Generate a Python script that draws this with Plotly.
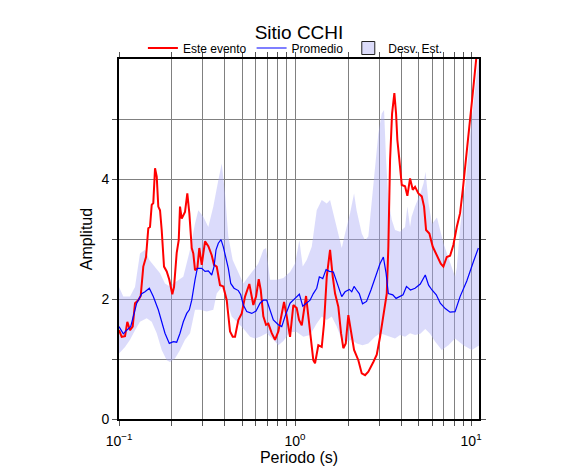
import plotly.graph_objects as go

# Este evento (red)
event_T = [0.100, 0.1036, 0.1082, 0.1115, 0.1155, 0.1196, 0.1233, 0.1287, 0.1328, 0.1374,
           0.1424, 0.1467, 0.1500, 0.1534, 0.1566, 0.1602, 0.1638, 0.1672, 0.1710, 0.1748,
           0.1802, 0.1867, 0.1931, 0.2008, 0.2054, 0.2127, 0.2184, 0.2221, 0.2271, 0.2319,
           0.2371, 0.2444, 0.2509, 0.2589, 0.2643, 0.2703, 0.2785, 0.2859, 0.2951, 0.3081,
           0.3217, 0.3363, 0.3466, 0.3590, 0.3749, 0.3914, 0.4092, 0.4273, 0.4426, 0.4561,
           0.4763, 0.4980, 0.5199, 0.5500, 0.5795, 0.6004, 0.6220, 0.6385, 0.6606, 0.6843,
           0.7052, 0.7373, 0.7698, 0.8038, 0.8404, 0.8660, 0.8972, 0.9368, 0.978, 1.022,
           1.054, 1.092, 1.155, 1.217, 1.270, 1.299, 1.356, 1.418, 1.461, 1.514,
           1.581, 1.638, 1.688, 1.762, 1.825, 1.881, 1.941, 2.008, 2.072, 2.164,
           2.289, 2.393, 2.499, 2.609, 2.785, 2.912, 3.041, 3.175, 3.319, 3.389,
           3.466, 3.558, 3.666, 3.749, 3.813, 3.914, 4.039, 4.217, 4.346, 4.502,
           4.664, 4.806, 5.018, 5.247, 5.407, 5.551, 5.795, 6.059, 6.384, 6.728,
           6.960, 7.277, 7.598, 7.932, 8.293, 8.660, 8.972, 9.368, 9.781, 10.226,
           10.677, 10.889]
event_amp = [1.48, 1.37, 1.38, 1.62, 1.48, 1.54, 1.93, 1.98, 2.05, 2.54,
             2.70, 3.18, 3.20, 3.57, 3.60, 4.18, 4.04, 3.54, 3.48, 3.15,
             2.54, 2.46, 2.32, 2.08, 2.20, 2.77, 2.98, 3.54, 3.34, 3.40,
             3.45, 3.76, 3.43, 2.85, 2.76, 2.48, 2.51, 2.85, 2.57, 2.96,
             2.88, 2.73, 2.57, 2.54, 2.23, 2.21, 1.98, 1.46, 1.37, 1.37,
             1.65, 1.76, 2.04, 2.25, 1.90, 2.04, 2.33, 2.15, 1.71, 1.57,
             1.59, 1.43, 1.32, 1.46, 1.78, 1.95, 1.71, 1.37, 1.90, 1.85,
             1.65, 1.56, 2.05, 1.45, 0.98, 0.93, 1.23, 1.20, 1.59, 2.37,
             2.82, 2.37, 2.09, 1.87, 1.43, 1.18, 1.26, 1.73, 1.48, 1.15,
             0.98, 0.76, 0.73, 0.79, 0.95, 1.07, 1.37, 1.76, 2.09, 2.87,
             4.32, 5.09, 5.43, 5.09, 4.65, 4.32, 3.90, 3.88, 3.72, 4.01,
             3.82, 3.87, 3.76, 3.71, 3.54, 3.15, 3.09, 2.87, 2.73, 2.59,
             2.54, 2.70, 2.72, 2.90, 3.20, 3.43, 3.82, 4.32, 4.87, 5.43,
             5.98, 6.25]

# Promedio (blue)
mean_T = [0.100, 0.1058, 0.1106, 0.1165, 0.1206, 0.1261, 0.1346, 0.1405, 0.1487, 0.1566,
          0.1672, 0.1748, 0.1825, 0.1931, 0.2035, 0.2127, 0.2221, 0.2319, 0.2425, 0.2509,
          0.2589, 0.2703, 0.2785, 0.2951, 0.3081, 0.3217, 0.3363, 0.3466, 0.3558, 0.3666,
          0.3798, 0.3914, 0.4055, 0.4179, 0.4312, 0.4502, 0.4763, 0.4915, 0.5085, 0.5316,
          0.5675, 0.6004, 0.6326, 0.6606, 0.6906, 0.7145, 0.7529, 0.8038, 0.8404, 0.8774,
          0.9368, 1.0, 1.058, 1.106, 1.165, 1.217, 1.270, 1.328, 1.374, 1.437,
          1.500, 1.566, 1.651, 1.739, 1.842, 1.924, 2.035, 2.100, 2.164, 2.236,
          2.316, 2.418, 2.548, 2.699, 2.912, 3.041, 3.175, 3.289, 3.389, 3.590,
          3.749, 3.914, 4.108, 4.295, 4.526, 4.806, 5.145, 5.493, 5.735, 5.996,
          6.343, 6.683, 7.135, 7.598, 8.111, 8.660, 9.454, 10.306, 11.003]
mean_amp = [1.54, 1.42, 1.48, 1.54, 1.71, 1.93, 2.09, 2.12, 2.18, 2.04,
            1.82, 1.62, 1.43, 1.26, 1.29, 1.28, 1.43, 1.62, 1.76, 1.82,
            1.98, 2.32, 2.51, 2.51, 2.46, 2.47, 2.40, 2.54, 2.82, 2.93,
            2.99, 2.87, 2.68, 2.51, 2.26, 2.18, 2.14, 2.07, 1.90, 1.79,
            1.76, 1.80, 1.93, 1.98, 1.98, 1.84, 1.65, 1.57, 1.54, 1.71,
            1.93, 2.01, 2.08, 1.88, 1.93, 1.98, 2.09, 2.18, 2.37, 2.34,
            2.49, 2.46, 2.45, 2.26, 2.04, 2.12, 2.16, 2.12, 2.21, 2.15,
            2.09, 1.92, 1.96, 2.15, 2.43, 2.59, 2.70, 2.43, 2.09, 2.07,
            2.01, 2.04, 2.07, 2.21, 2.15, 2.18, 2.25, 2.40, 2.23, 2.15,
            2.07, 1.93, 1.84, 1.78, 1.79, 2.04, 2.30, 2.62, 2.85]

# Desv. Est. band, upper edge
upper_T = [0.100, 0.1058, 0.1155, 0.1233, 0.1316, 0.1405, 0.1487, 0.1602, 0.1710, 0.1825,
           0.1949, 0.2035, 0.2172, 0.2319, 0.2532, 0.2703, 0.2822, 0.3013, 0.3217, 0.3434,
           0.3666, 0.3833, 0.4002, 0.4179, 0.4426, 0.4763, 0.5085, 0.5428, 0.5795, 0.6187,
           0.6606, 0.6843, 0.7211, 0.7872, 0.8581, 0.9368, 1.0, 1.058, 1.106, 1.165,
           1.244, 1.328, 1.418, 1.514, 1.581, 1.651, 1.739, 1.842, 1.924, 2.054,
           2.164, 2.236, 2.393, 2.499, 2.609, 2.699, 2.848, 2.974, 3.109, 3.204,
           3.289, 3.389, 3.543, 3.700, 3.950, 4.217, 4.346, 4.502, 4.592, 4.800,
           5.145, 5.372, 5.514, 5.735, 5.996, 6.402, 6.978, 7.598, 8.111, 8.293,
           8.660, 9.331, 9.962, 10.775, 11.147]
upper_amp = [2.20, 2.04, 2.04, 2.20, 2.76, 2.82, 2.65, 2.54, 2.43, 2.26,
             2.21, 2.26, 2.32, 2.37, 2.82, 3.26, 3.48, 3.37, 3.20, 3.54,
             3.98, 4.26, 3.76, 3.04, 2.65, 2.43, 2.26, 2.37, 2.48, 2.59,
             2.82, 2.85, 2.32, 2.32, 2.35, 2.45, 2.59, 2.98, 2.54, 2.65,
             2.87, 3.48, 3.65, 3.59, 3.65, 3.43, 3.15, 2.85, 3.09, 3.43,
             3.76, 3.48, 3.09, 2.98, 3.04, 3.48, 4.21, 4.76, 5.09, 5.15,
             4.32, 3.65, 3.32, 3.15, 3.12, 3.20, 3.54, 3.20, 3.37, 3.54,
             3.76, 3.93, 4.12, 3.60, 3.25, 3.36, 2.92, 2.60, 2.37, 2.52,
             3.19, 3.95, 4.85, 5.75, 6.10]

# Desv. Est. band, lower edge
lower_T = [0.100, 0.1082, 0.1155, 0.1233, 0.1316, 0.1437, 0.1534, 0.1638, 0.1748, 0.1867,
           0.1949, 0.2080, 0.2221, 0.2371, 0.2532, 0.2703, 0.2886, 0.3150, 0.3434, 0.3590,
           0.3833, 0.4092, 0.4369, 0.4664, 0.5085, 0.5551, 0.5926, 0.6326, 0.6906, 0.7529,
           0.8038, 0.8581, 0.9368, 1.022, 1.115, 1.217, 1.328, 1.418, 1.514, 1.616,
           1.726, 1.842, 1.967, 2.100, 2.242, 2.418, 2.609, 2.848, 3.041, 3.246,
           3.466, 3.700, 3.950, 4.217, 4.502, 4.806, 5.145, 5.493, 5.849, 6.244,
           6.816, 7.431, 8.111, 9.043, 10.093, 11.147]
lower_amp = [1.09, 1.20, 1.32, 1.48, 1.62, 1.68, 1.62, 1.43, 1.15, 0.98,
             0.95, 1.01, 1.15, 1.32, 1.43, 1.82, 1.82, 1.79, 1.82, 2.09,
             2.20, 1.98, 1.71, 1.62, 1.51, 1.37, 1.34, 1.37, 1.43, 1.32,
             1.23, 1.30, 1.45, 1.45, 1.37, 1.40, 1.59, 1.71, 1.65, 1.71,
             1.54, 1.32, 1.29, 1.32, 1.26, 1.23, 1.26, 1.37, 1.43, 1.40,
             1.37, 1.34, 1.40, 1.37, 1.43, 1.40, 1.42, 1.50, 1.42, 1.29,
             1.15, 1.23, 1.34, 1.23, 1.15, 1.23]

x_tickvals = [0.1, 0.2, 0.3, 0.4, 0.5, 0.6, 0.7, 0.8, 0.9,
              1, 2, 3, 4, 5, 6, 7, 8, 9, 10]
x_ticktext = ["10<sup>\u22121</sup>"] + [""] * 8 + ["10<sup>0</sup>"] + [""] * 8 + ["10<sup>1</sup>"]
y_tickvals = [0, 1, 2, 3, 4, 5]
y_ticktext = ["0", "", "2", "", "4", ""]

band_fill = "rgba(170,170,245,0.42)"
font_family = "Liberation Sans, Arial, sans-serif"

# the page body adds an 8px offset, so the figure is a bit smaller than the window
W, H = 570, 460

fig = go.Figure()

# std-dev band as a closed polygon
fig.add_trace(go.Scatter(
    x=upper_T + lower_T[::-1], y=upper_amp + lower_amp[::-1],
    fill="toself", fillcolor=band_fill, mode="lines",
    line=dict(width=0, color="rgba(0,0,0,0)"),
    showlegend=False, hoverinfo="skip"
))
fig.add_trace(go.Scatter(
    x=event_T, y=event_amp, mode="lines", name="Este evento",
    line=dict(color="#ff0000", width=2)
))
fig.add_trace(go.Scatter(
    x=mean_T, y=mean_amp, mode="lines", name="Promedio",
    line=dict(color="#0000ff", width=1.2)
))
# legend-only entry for the band
fig.add_trace(go.Scatter(
    x=[None], y=[None], mode="markers", name="Desv. Est.",
    marker=dict(symbol="square", size=13, color="#dcdcfa", line=dict(color="#222222", width=1))
))

fig.update_layout(
    width=W, height=H,
    margin=dict(l=111, r=99, t=51, b=49, autoexpand=False),
    paper_bgcolor="white", plot_bgcolor="white",
    font=dict(family=font_family, color="black", size=14),
    title=dict(text="Sitio CCHI", x=0.5, xref="paper", xanchor="center",
               y=1 - 24 / H, yref="container", yanchor="middle",
               font=dict(size=19, family=font_family)),
    legend=dict(orientation="h", x=0.49, xanchor="center",
                y=1 - 40 / H, yref="container", yanchor="middle",
                font=dict(size=12), itemwidth=30, tracegroupgap=0,
                bgcolor="rgba(0,0,0,0)"),
    showlegend=True,
)
fig.update_xaxes(
    type="log", range=[-1, 1.045], automargin=False,
    tickvals=x_tickvals, ticktext=x_ticktext,
    ticks="outside", ticklen=5, tickcolor="#555555",
    showgrid=True, gridcolor="#808080", gridwidth=1,
    showline=True, linecolor="black", linewidth=2, mirror="ticks",
    zeroline=False, ticklabelstandoff=3,
    title=dict(text="Periodo (s)", font=dict(size=16), standoff=3),
    tickfont=dict(size=14),
)
fig.update_yaxes(
    range=[0, 6], automargin=False,
    tickvals=y_tickvals, ticktext=y_ticktext,
    ticks="outside", ticklen=5, tickcolor="#555555",
    showgrid=True, gridcolor="#808080", gridwidth=1,
    showline=True, linecolor="black", linewidth=2, mirror="ticks",
    zeroline=False,
    title=dict(text="Amplitud", font=dict(size=16), standoff=5),
    tickfont=dict(size=14),
)

fig.write_html("out.html")
